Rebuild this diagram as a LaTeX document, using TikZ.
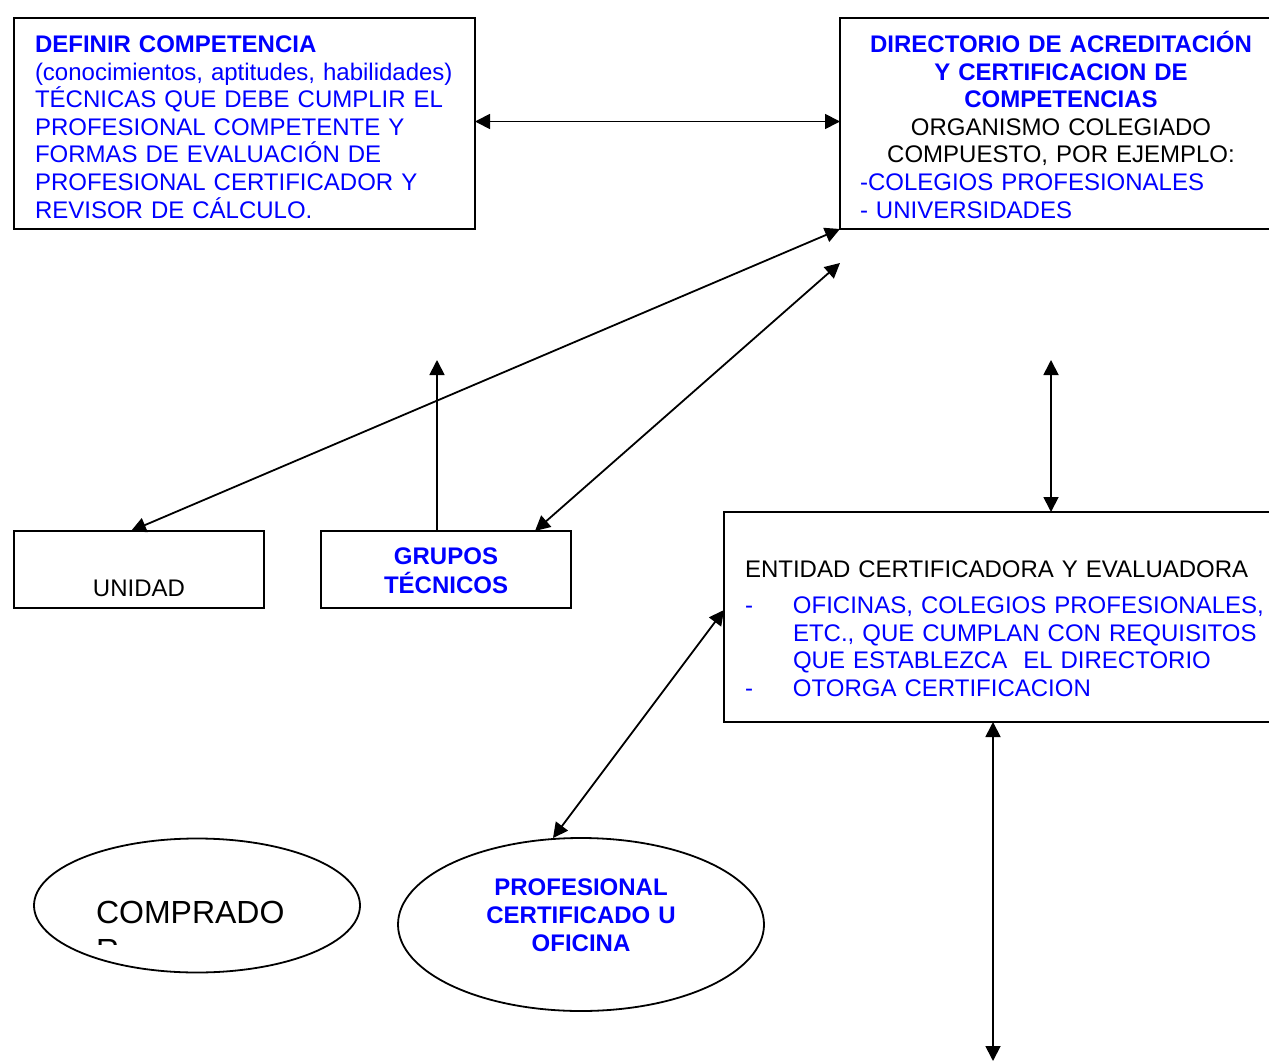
\documentclass[tikz,border=0pt]{standalone}
\usepackage{fontspec}
\setmainfont{Liberation Sans}
\usetikzlibrary{arrows.meta,shapes.geometric}
\definecolor{mblue}{RGB}{0,0,255}
\begin{document}
\begin{tikzpicture}[x=1pt,y=-1pt,
  frame/.style={draw=black,line width=1.8pt,inner sep=0pt,outer sep=0pt},
  txt/.style={inner sep=0pt,outer sep=0pt,font=\fontsize{24}{27.6}\selectfont},
  tip/.tip={Triangle[length=15pt,width=15pt]},
  link/.style={line width=1.8pt,tip-tip},
  oneway/.style={line width=1.8pt,-tip}]
\useasboundingbox[fill=white] (0,0) rectangle (1269,1062);
% boxes
\node[frame,minimum width=461pt,minimum height=211pt] (boxA) at (244.5,123.5) {};
\node[frame,minimum width=450pt,minimum height=211pt] (boxB) at (1065,123.5) {};
\node[frame,minimum width=250pt,minimum height=77pt] (unidad) at (139,569.5) {};
\node[frame,minimum width=250pt,minimum height=77pt] (grupos) at (446,569.5) {};
\node[frame,minimum width=566pt,minimum height=210pt] (entidad) at (1007,617) {};
\node[frame,ellipse,minimum width=326pt,minimum height=134pt] (comprador) at (197,905.5) {};
\node[frame,ellipse,minimum width=366pt,minimum height=173pt] (profesional) at (581,924.5) {};
% texts
\node[txt,anchor=base west,text width=500pt,align=left,text=mblue] (textA) at (35,52.6)
 {\textbf{DEFINIR COMPETENCIA}\\
 (conocimientos, aptitudes, habilidades)\\
 TÉCNICAS QUE DEBE CUMPLIR EL\\
 PROFESIONAL COMPETENTE Y\\
 FORMAS DE EVALUACIÓN DE\\
 PROFESIONAL CERTIFICADOR Y\\
 REVISOR DE CÁLCULO.};
\node[txt,anchor=base west,text width=402pt,align=center] (textB) at (860,52.6)
 {\textcolor{mblue}{\textbf{DIRECTORIO DE ACREDITACIÓN}}\\
 \textcolor{mblue}{\textbf{Y CERTIFICACION DE}}\\
 \textcolor{mblue}{\textbf{COMPETENCIAS}}\\
 ORGANISMO COLEGIADO\\
 COMPUESTO, POR EJEMPLO:\\
 \makebox[402pt][l]{\textcolor{mblue}{-COLEGIOS PROFESIONALES}}\\
 \makebox[402pt][l]{\textcolor{mblue}{- UNIVERSIDADES}}};
\node[txt,anchor=base] (textU) at (139,596.6) {UNIDAD};
\node[txt,anchor=base,text width=250pt,align=center,text=mblue,
  font=\fontsize{24}{29}\selectfont\bfseries] (textG) at (446,564.6) {GRUPOS\\TÉCNICOS};
\node[txt,anchor=base west,text width=560pt,align=left] (textE) at (745,577.6)
 {ENTIDAD CERTIFICADORA Y EVALUADORA\\[8.4pt]
 \color{mblue}\makebox[48pt][l]{-}OFICINAS, COLEGIOS PROFESIONALES,\\
 \hspace*{48pt}ETC., QUE CUMPLAN CON REQUISITOS\\
 \hspace*{48pt}QUE ESTABLEZCA\ \ EL DIRECTORIO\\
 \makebox[48pt][l]{-}OTORGA CERTIFICACION};
\node[txt,anchor=base,text width=366pt,align=center,text=mblue,
  font=\fontsize{24}{28}\selectfont\bfseries] (textP) at (581,895.6)
 {PROFESIONAL\\CERTIFICADO U\\OFICINA};
\node[txt,anchor=base west,font=\fontsize{32}{38}\selectfont] (textC) at (96,923) {COMPRADO};
\begin{scope}
\clip (60,880) rectangle (400,944);
\node[txt,anchor=base west,font=\fontsize{32}{38}\selectfont] (textC2) at (96,961) {R};
\end{scope}
% connector end points
\coordinate (pA) at (475,121.5);
\coordinate (pB) at (840,121.5);
\coordinate (pU) at (131,531);
\coordinate (pG1) at (437,531);
\coordinate (pG1top) at (437,360);
\coordinate (pG2) at (535,531);
\coordinate (pB2) at (840,263);
\coordinate (pE1) at (1051,360);
\coordinate (pE1b) at (1051,512);
\coordinate (pP) at (553,838);
\coordinate (pE2) at (724,610);
\coordinate (pE3) at (993,722);
\coordinate (pEnd) at (993,1061);
% connectors
\draw[link] (pA) -- (pB);
\draw[link] (pU) -- (boxB.south west);
\draw[oneway] (pG1) -- (pG1top);
\draw[link] (pG2) -- (pB2);
\draw[link] (pE1) -- (pE1b);
\draw[link] (pP) -- (pE2);
\draw[link] (pE3) -- (pEnd);
\end{tikzpicture}
\end{document}
